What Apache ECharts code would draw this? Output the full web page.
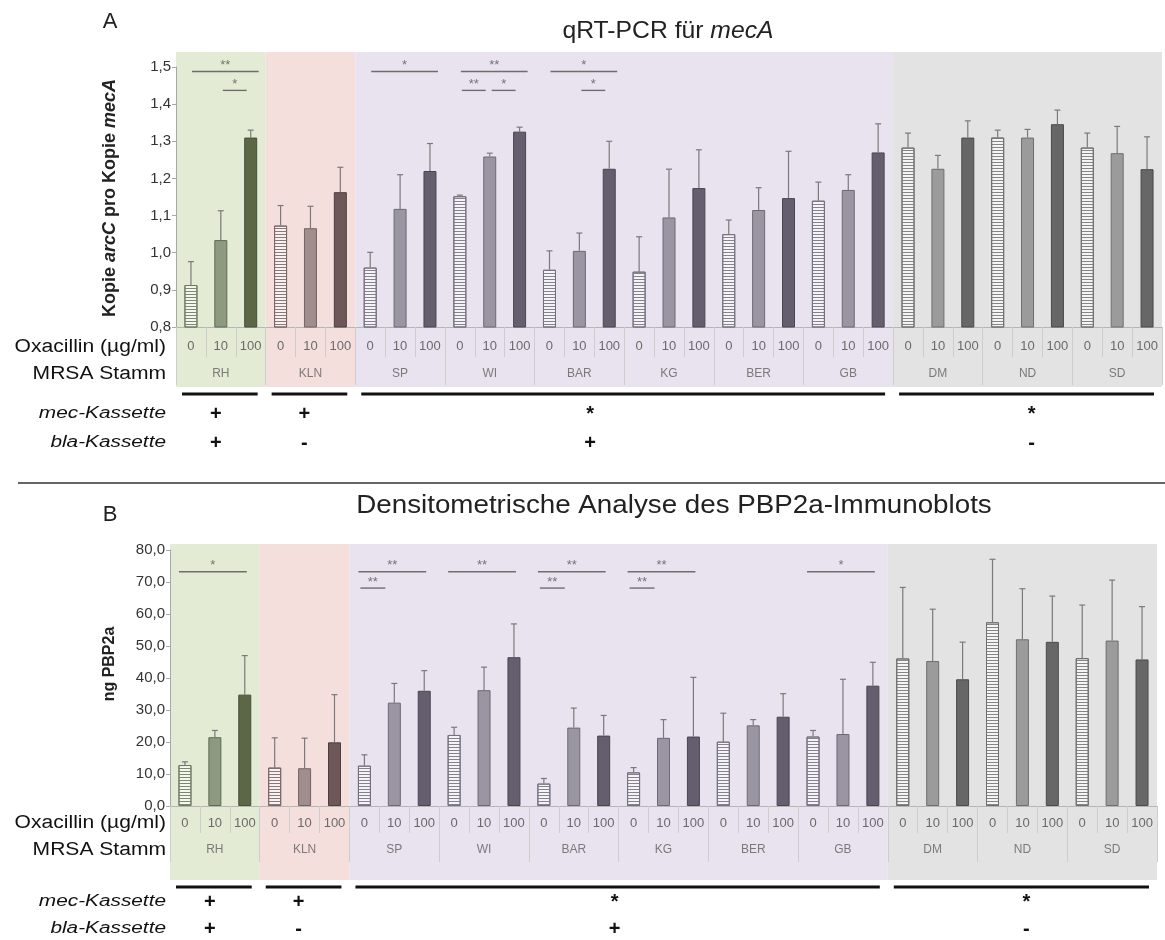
<!DOCTYPE html>
<html><head><meta charset="utf-8">
<script src="https://cdn.jsdelivr.net/npm/echarts@6/dist/echarts.min.js"></script>
<style>html,body{margin:0;padding:0;background:#fff}#c{width:1165px;height:940px}</style>
</head><body><div id="c"></div>
<script>
// ---------- DATA ----------
const strains = ['RH','KLN','SP','WI','BAR','KG','BER','GB','DM','ND','SD'];
const strainGroup = ['green','pink','purple','purple','purple','purple','purple','purple','grey','grey','grey'];
const doses = ['0','10','100'];

const qpcrMean = [0.913,1.034,1.310, 1.073,1.066,1.163, 0.960,1.118,1.220, 1.152,1.259,1.326,
                  0.954,1.005,1.226, 0.949,1.095,1.174, 1.050,1.115,1.147, 1.140,1.169,1.270,
                  1.283,1.226,1.310, 1.310,1.310,1.346, 1.283,1.268,1.225];
const qpcrSD   = [0.063,0.079,0.020, 0.054,0.059,0.067, 0.041,0.092,0.074, 0.003,0.009,0.012,
                  0.051,0.048,0.074, 0.094,0.130,0.103, 0.038,0.060,0.126, 0.050,0.041,0.077,
                  0.039,0.036,0.045, 0.020,0.022,0.038, 0.039,0.072,0.087];
const pbpMean  = [12.8,21.5,34.8, 12.0,11.8,19.9, 12.6,32.3,36.0, 22.2,36.2,46.5,
                  7.0,24.5,22.0, 10.5,21.3,21.7, 20.1,25.2,27.9, 21.7,22.5,37.6,
                  46.1,45.3,39.6, 57.4,52.1,51.3, 46.2,51.7,45.8];
const pbpSD    = [1.0,2.1,12.2, 9.3,9.4,14.9, 3.4,6.0,6.3, 2.4,7.2,10.4,
                  1.6,6.1,6.3, 1.5,5.7,18.5, 8.9,1.8,7.2, 1.9,17.1,7.3,
                  22.2,16.2,11.6, 19.7,15.8,14.3, 16.6,18.9,16.5];

const qpcrTicks = [0.8,0.9,1.0,1.1,1.2,1.3,1.4,1.5];
const qpcrTickLabels = ['0,8','0,9','1,0','1,1','1,2','1,3','1,4','1,5'];
const pbpTicks = [0,10,20,30,40,50,60,70,80];
const pbpTickLabels = ['0,0','10,0','20,0','30,0','40,0','50,0','60,0','70,0','80,0'];

const qpcrBrackets = [['RH','0','100',0,'**'],['RH','10','100',1,'*'],['SP','0','100',0,'*'],
  ['WI','0','100',0,'**'],['WI','0','10',1,'**'],['WI','10','100',1,'*'],
  ['BAR','0','100',0,'*'],['BAR','10','100',1,'*']];
const qpcrBracketLevels = [1.488, 1.437];
const pbpBrackets = [['RH','0','100',0,'*'],['SP','0','100',0,'**'],['SP','0','10',1,'**'],
  ['WI','0','100',0,'**'],['BAR','0','100',0,'**'],['BAR','0','10',1,'**'],
  ['KG','0','100',0,'**'],['KG','0','10',1,'**'],['GB','0','100',0,'*']];
const pbpBracketLevels = [73.2, 68.1];

const cassette = [
  {from:'RH', to:'RH', mec:'+', bla:'+'},
  {from:'KLN', to:'KLN', mec:'+', bla:'-'},
  {from:'SP', to:'GB', mec:'*', bla:'+'},
  {from:'DM', to:'SD', mec:'*', bla:'-'}
];

const titleA = 'qRT-PCR für ';
const titleAItalic = 'mecA';
const titleB = 'Densitometrische Analyse des PBP2a-Immunoblots';
const rowLabel1 = 'Oxacillin (µg/ml)';
const rowLabel2 = 'MRSA Stamm';

// ---------- STYLES ----------
const FONT = "'Liberation Sans', Arial, sans-serif";
const groupStyle = {
  green:  {stripe:'#7d896f', c:['#f4f6f0','#8e9a80','#5c6748'], b:['#6f7a63','#5f6a52','#454e37'], band:'#e3ebd5'},
  pink:   {stripe:'#8c7878', c:['#f7f2f2','#a08e8f','#6d5759'], b:['#7a6666','#766163','#4e3d3f'], band:'#f5dfdd'},
  purple: {stripe:'#86808f', c:['#f4f3f6','#9a95a2','#645e6e'], b:['#747080','#6d6875','#4a4452'], band:'#e8e3ef'},
  grey:   {stripe:'#858585', c:['#f4f4f4','#9b9b9b','#676767'], b:['#6e6e6e','#6e6e6e','#4a4a4a'], band:'#e3e3e3'}
};

const cats = [];
strains.forEach(s => doses.forEach(d => cats.push(s + '|' + d)));
const idxOf = (s, d) => strains.indexOf(s) * 3 + doses.indexOf(d);

function barData(vals) {
  return vals.map((v, i) => {
    const gs = groupStyle[strainGroup[Math.floor(i / 3)]];
    const d = i % 3;
    const st = {color: gs.c[d], borderColor: gs.b[d], borderWidth: 1};
    if (d === 0) st.decal = {symbol:'rect', symbolSize:1, dashArrayX:[1,0], dashArrayY:[1,2], color: gs.stripe, rotation:0};
    return {value: v, itemStyle: st};
  });
}

function errRender(params, api) {
  const x = api.value(0), m = api.value(1), hi = api.value(2);
  const p0 = api.coord([x, m]), p1 = api.coord([x, hi]);
  const st = {stroke:'#7a7a7a', lineWidth:1.2};
  return {type:'group', children:[
    {type:'line', shape:{x1:p0[0], y1:p0[1], x2:p1[0], y2:p1[1]}, style:st},
    {type:'line', shape:{x1:p1[0]-3, y1:p1[1], x2:p1[0]+3, y2:p1[1]}, style:st}
  ]};
}

function bracketSeries(list, levels, xi, yi, off) {
  return {
    type:'custom', xAxisIndex:xi, yAxisIndex:yi, z:5, clip:false,
    data: list.map(b => [idxOf(b[0], b[1]), idxOf(b[0], b[2]), levels[b[3]], b[3]]),
    renderItem: (params, api) => {
      const b = list[params.dataIndex];
      const lvl = api.value(3);
      const p1 = api.coord([api.value(0), api.value(2)]);
      const p2 = api.coord([api.value(1), api.value(2)]);
      const o = lvl === 0 ? off.long : off.short;
      const x1 = p1[0] + o[0], x2 = p2[0] + o[1];
      return {type:'group', children:[
        {type:'line', shape:{x1:x1, y1:p1[1], x2:x2, y2:p1[1]}, style:{stroke:'#6e6e6e', lineWidth:1.4}},
        {type:'text', x:(x1 + x2) / 2, y:p1[1] - 6, style:{text:b[4], fill:'#747474', font:'13px ' + FONT, textAlign:'center', textVerticalAlign:'middle'}}
      ]};
    }
  };
}

function lookupLabel(ticks, labels) {
  return v => { const i = ticks.findIndex(t => Math.abs(t - v) < 1e-6); return i >= 0 ? labels[i] : ''; };
}

const xBase = (gi, margin, len) => ({
  type:'category', gridIndex:gi, data:cats, position:'bottom',
  axisLine:{show:true, lineStyle:{color:'#b5b5b5'}},
  axisTick:{show:true, interval:0, length:len, lineStyle:{color:'#cdcdcd'}},
  axisLabel:{interval:0, margin:margin, fontSize:13, color:'#6a6a6a', fontFamily:FONT, formatter: v => v.split('|')[1]}
});
const xStrain = (gi, margin, len) => ({
  type:'category', gridIndex:gi, data:strains, position:'bottom',
  axisLine:{show:false},
  axisTick:{show:true, interval:0, length:len, lineStyle:{color:'#cdcdcd'}},
  axisLabel:{interval:0, margin:margin, fontSize:12, color:'#7a7a7a', fontFamily:FONT}
});
const yBase = (gi, min, max, interval, ticks, labels) => ({
  type:'value', gridIndex:gi, min:min, max:max, interval:interval,
  axisLine:{show:true, lineStyle:{color:'#a8a8a8'}},
  axisTick:{show:true, length:4, lineStyle:{color:'#a8a8a8'}},
  splitLine:{show:false},
  axisLabel:{fontSize:15, color:'#333', fontFamily:FONT, margin:5, formatter: lookupLabel(ticks, labels)}
});

const option = {
  animation:false,
  backgroundColor:'#fff',
  grid:[
    {left:176, right:3, top:67, bottom:613},
    {left:170, right:8, top:550, bottom:134}
  ],
  xAxis:[ xBase(0, 13, 30), xStrain(0, 41, 58), xBase(1, 11, 27), xStrain(1, 38, 56) ],
  yAxis:[ yBase(0, 0.8, 1.5, 0.1, qpcrTicks, qpcrTickLabels), yBase(1, 0, 80, 10, pbpTicks, pbpTickLabels) ],
  series:[
    {type:'bar', xAxisIndex:0, yAxisIndex:0, barWidth:13, data:barData(qpcrMean), z:3},
    {type:'custom', xAxisIndex:0, yAxisIndex:0, z:4, renderItem:errRender,
      data: qpcrMean.map((m, i) => [i, m, m + qpcrSD[i]])},
    bracketSeries(qpcrBrackets, qpcrBracketLevels, 0, 0, {long:[1,8], short:[2,-4]}),
    {type:'bar', xAxisIndex:2, yAxisIndex:1, barWidth:13, data:barData(pbpMean), z:3},
    {type:'custom', xAxisIndex:2, yAxisIndex:1, z:4, renderItem:errRender,
      data: pbpMean.map((m, i) => [i, m, m + pbpSD[i]])},
    bracketSeries(pbpBrackets, pbpBracketLevels, 2, 1, {long:[-6,2], short:[-4,-9]})
  ]
};

const chart = echarts.init(document.getElementById('c'), null, {renderer:'canvas'});
chart.setOption(option);

// ---------- DECORATION (positions derived from the axes) ----------
const layout = [
  {bandUp:15, bandDown:60, lineY:394, mecY:414, blaY:443, oxY:347, mrsaY:374, letterY:22, titleY:31, markShift:[-5,-6,-34,4]},
  {bandUp:6, bandDown:74, lineY:887, mecY:902, blaY:929, oxY:823, mrsaY:850, letterY:515, titleY:506, markShift:[-5,-6,-4,4]}
];
const els = [];
[0, 1].forEach(gi => {
  const L = layout[gi];
  const X = i => chart.convertToPixel({xAxisIndex: gi * 2}, i);
  const Y = v => chart.convertToPixel({yAxisIndex: gi}, v);
  const w = X(1) - X(0);
  const yTop = Y(gi ? 80 : 1.5) - L.bandUp;
  const yBot = Y(gi ? 0 : 0.8) + L.bandDown;
  let s0 = 0;
  for (let s = 1; s <= strains.length; s++) {
    if (s === strains.length || strainGroup[s] !== strainGroup[s0]) {
      const x0 = X(s0 * 3) - w / 2, x1 = X(s * 3 - 1) + w / 2;
      els.push({type:'rect', z:-10, silent:true, shape:{x:x0, y:yTop, width:x1 - x0, height:yBot - yTop},
        style:{fill: groupStyle[strainGroup[s0]].band}});
      s0 = s;
    }
  }
  cassette.forEach((c, k) => {
    const x0 = X(idxOf(c.from, '0')) - w / 2, x1 = X(idxOf(c.to, '100')) + w / 2;
    els.push({type:'line', z:10, shape:{x1:x0 + 6, y1:L.lineY, x2:x1 - 8, y2:L.lineY}, style:{stroke:'#111', lineWidth:3.2}});
    const cx = (x0 + x1) / 2 + L.markShift[k];
    els.push({type:'text', z:10, x:cx, y:L.mecY, style:{text:c.mec, font:'bold 20px ' + FONT, fill:'#111', textAlign:'center', textVerticalAlign:'middle'}});
    els.push({type:'text', z:10, x:cx, y:L.blaY, style:{text:c.bla, font:'bold 20px ' + FONT, fill:'#111', textAlign:'center', textVerticalAlign:'middle'}});
  });
  els.push({type:'text', z:10, x:166, y:L.oxY, scaleX:1.17, style:{text:rowLabel1, font:'18px ' + FONT, fill:'#111', textAlign:'right', textVerticalAlign:'middle'}});
  els.push({type:'text', z:10, x:166, y:L.mrsaY, scaleX:1.17, style:{text:rowLabel2, font:'18px ' + FONT, fill:'#111', textAlign:'right', textVerticalAlign:'middle'}});
  els.push({type:'text', z:10, x:166, y:L.mecY, scaleX:1.3, style:{text:'mec-Kassette', font:'italic 16px ' + FONT, fill:'#111', textAlign:'right', textVerticalAlign:'middle'}});
  els.push({type:'text', z:10, x:166, y:L.blaY, scaleX:1.3, style:{text:'bla-Kassette', font:'italic 16px ' + FONT, fill:'#111', textAlign:'right', textVerticalAlign:'middle'}});
  els.push({type:'text', z:10, x:110, y:L.letterY, style:{text: gi ? 'B' : 'A', font:'22px ' + FONT, fill:'#222', textAlign:'center', textVerticalAlign:'middle'}});
});
els.push({type:'text', z:10, x:110, y:198, rotation:Math.PI / 2, style:{
  text:'{n|Kopie }{i|arcC}{n| pro Kopie }{i|mecA}', textAlign:'center', textVerticalAlign:'middle',
  rich:{n:{font:'bold 18px ' + FONT, fill:'#222'}, i:{font:'italic bold 18px ' + FONT, fill:'#222'}}}});
els.push({type:'text', z:10, x:110, y:664, rotation:Math.PI / 2, style:{
  text:'ng PBP2a', font:'bold 16px ' + FONT, fill:'#222', textAlign:'center', textVerticalAlign:'middle'}});
els.push({type:'text', z:10, x:668, y:layout[0].titleY, scaleX:1.03, style:{
  text:'{n|' + titleA + '}{i|' + titleAItalic + '}', textAlign:'center', textVerticalAlign:'middle',
  rich:{n:{font:'24px ' + FONT, fill:'#222'}, i:{font:'italic 24px ' + FONT, fill:'#222'}}}});
els.push({type:'text', z:10, x:674, y:layout[1].titleY, scaleX:1.11, style:{
  text:titleB, font:'25px ' + FONT, fill:'#222', textAlign:'center', textVerticalAlign:'middle'}});
els.push({type:'line', z:10, shape:{x1:18, y1:483, x2:1165, y2:483}, style:{stroke:'#333', lineWidth:1.5}});

chart.setOption({graphic:{elements:els}});
</script>
</body></html>
